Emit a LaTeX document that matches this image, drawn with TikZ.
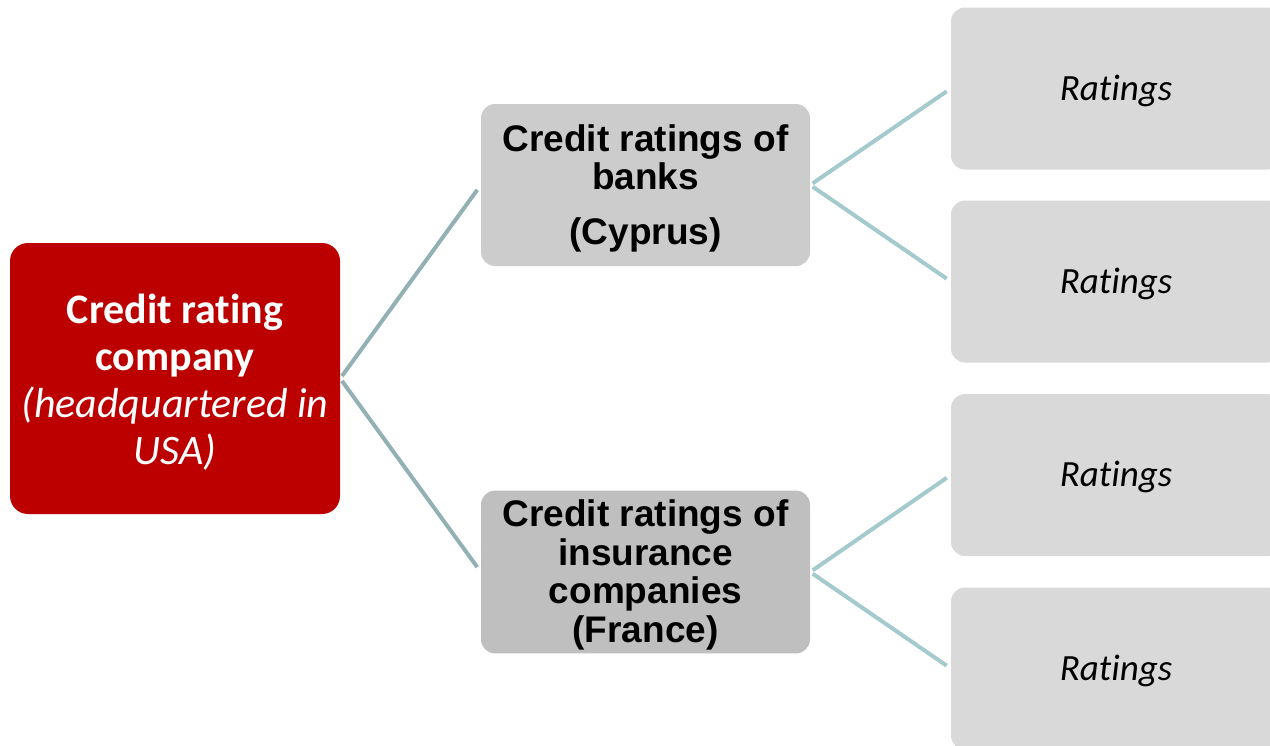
\documentclass[tikz,border=0pt]{standalone}
\usepackage{fontspec}
\usepackage{tikz}
\usetikzlibrary{positioning, calc}
\newfontfamily\calibri[Ligatures=NoCommon]{Carlito}
\newfontfamily\arial{Liberation Sans}
\definecolor{topred}{HTML}{BC0000}
\definecolor{midgray}{HTML}{CCCCCC}
\definecolor{middark}{HTML}{BFBFBF}
\definecolor{leafgray}{HTML}{D9D9D9}
\definecolor{linkone}{HTML}{93B1B5}
\definecolor{linktwo}{HTML}{A5CACD}

\begin{document}
\begin{tikzpicture}[x=1pt, y=-1pt,
  Top/.style={rectangle, rounded corners=18pt, fill=topred, text=white,
    minimum width=330pt, minimum height=271pt, align=center,
    font=\calibri\bfseries\fontsize{42}{47}\selectfont},
  Mid/.style={rectangle, rounded corners=14pt, fill=midgray,
    minimum width=329pt, minimum height=162pt, align=center,
    font=\arial\bfseries\fontsize{37}{38.5}\selectfont},
  Leaf/.style={rectangle, rounded corners=14pt, fill=leafgray,
    minimum width=330pt, minimum height=162pt,
    font=\calibri\itshape\fontsize{37}{44}\selectfont},
  Link/.style={line width=4pt, draw=linkone, shorten <=3pt, shorten >=6pt},
  Twig/.style={line width=4pt, draw=linktwo, shorten <=3pt, shorten >=5pt}]
  \useasboundingbox (0,0) rectangle (1270,745);
  \clip (0,0) rectangle (1270,745);
  % root
  \node [Top] (CRC) at (175,378.5) {\rule{0pt}{36pt}Credit rating\\company\\
    {\mdseries\itshape (headquartered in}\\{\mdseries\itshape USA)}};
  % second level
  \node [Mid] (Banks) at (645.5,185)
    {\rule{0pt}{33pt}Credit ratings of\\banks\\[16pt](Cyprus)};
  \node [Mid, fill=middark] (Insur) at (645.5,572)
    {\rule{0pt}{33pt}Credit ratings of\\insurance\\companies\\(France)};
  % leaves
  \node [Leaf] (R1) at (1116,88.5) {\rule{0pt}{30pt}Ratings};
  \node [Leaf] (R2) at (1116,281.5) {\rule{0pt}{30pt}Ratings};
  \node [Leaf] (R3) at (1116,475) {\rule{0pt}{30pt}Ratings};
  \node [Leaf] (R4) at (1116,668.5) {\rule{0pt}{30pt}Ratings};
  \draw[Link] (CRC.east) -- (Banks.west);
  \draw[Link] (CRC.east) -- (Insur.west);
  \draw[Twig] (Banks.east) -- (R1.west);
  \draw[Twig] (Banks.east) -- (R2.west);
  \draw[Twig] (Insur.east) -- (R3.west);
  \draw[Twig] (Insur.east) -- (R4.west);
\end{tikzpicture}
\end{document}
